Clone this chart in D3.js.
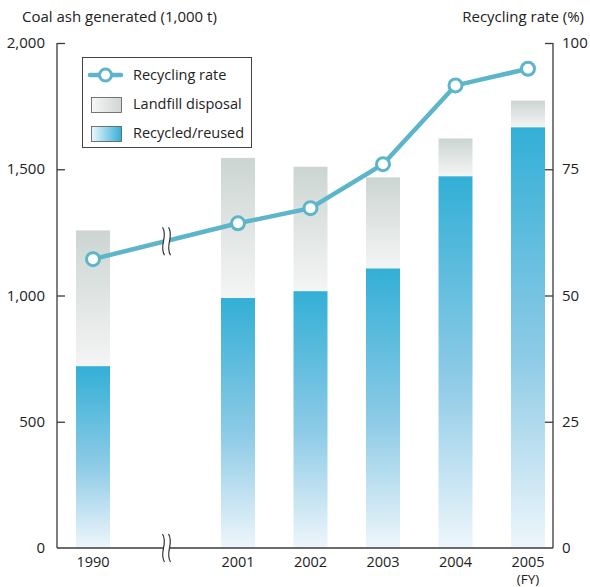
<!DOCTYPE html>
<html>
<head>
<meta charset="utf-8">
<script src="https://cdn.jsdelivr.net/npm/d3@7"></script>
<style>
  html, body { margin: 0; padding: 0; background: #fff; }
  svg { display: block; font-family: "Open Sans", "DejaVu Sans", sans-serif; }
</style>
</head>
<body>
<svg id="chart" width="590" height="587"></svg>
<script>
// Fiscal years shown, and the slot each occupies on the x axis (slot 1 is the axis break)
const years = ["1990", "2001", "2002", "2003", "2004", "2005"];
const slots = [0, 2, 3, 4, 5, 6];
// Coal ash generated, thousand tonnes
const totalAsh = [1258, 1545, 1510, 1468, 1622, 1772];
// Portion recycled or reused, thousand tonnes
const recycled = [720, 990, 1017, 1107, 1472, 1666];
// Recycling rate, percent
const recyclingRate = [57.2, 64.3, 67.3, 76.0, 91.6, 94.9];
const leftTicks = [0, 500, 1000, 1500, 2000];
const rightTicks = [0, 25, 50, 75, 100];

const svg = d3.select("#chart");
const plotL = 57, plotR = 553, plotT = 43, plotB = 548;
const lineColor = "#5cb5c9";
const axisColor = "#3a3a3a";
const textColor = "#222";

const x = d3.scaleLinear().domain([0, 6]).range([93, 528]);
const yAsh = d3.scaleLinear().domain([0, 2000]).range([plotB, plotT]);
const yRate = d3.scaleLinear().domain([0, 100]).range([plotB, plotT]);
const barW = 34;

// Gradients: grey fade for landfill, blue fade for recycled
const defs = svg.append("defs");
const gGrey = defs.append("linearGradient").attr("id", "landfill")
  .attr("x1", 0).attr("y1", 0).attr("x2", 0).attr("y2", 1);
gGrey.append("stop").attr("offset", "0%").attr("stop-color", "#ccd5d2");
gGrey.append("stop").attr("offset", "100%").attr("stop-color", "#f4f5f5");
const gBlue = defs.append("linearGradient").attr("id", "recycled")
  .attr("x1", 0).attr("y1", 0).attr("x2", 0).attr("y2", 1);
gBlue.append("stop").attr("offset", "0%").attr("stop-color", "#33afd6");
gBlue.append("stop").attr("offset", "55%").attr("stop-color", "#8ecbe6");
gBlue.append("stop").attr("offset", "100%").attr("stop-color", "#eef6fb");
const gGreyH = defs.append("linearGradient").attr("id", "landfillKey");
gGreyH.append("stop").attr("offset", "0%").attr("stop-color", "#f6f6f6");
gGreyH.append("stop").attr("offset", "100%").attr("stop-color", "#cfd6d4");
const gBlueH = defs.append("linearGradient").attr("id", "recycledKey");
gBlueH.append("stop").attr("offset", "0%").attr("stop-color", "#eef7fb");
gBlueH.append("stop").attr("offset", "100%").attr("stop-color", "#33afd6");

const data = years.map((yr, i) => ({
  yr, slot: slots[i], total: totalAsh[i], rec: recycled[i], rate: recyclingRate[i]
}));

// Bars
const bars = svg.append("g");
bars.selectAll("rect.landfill").data(data).join("rect")
  .attr("class", "landfill")
  .attr("x", d => x(d.slot) - barW / 2)
  .attr("y", d => yAsh(d.total))
  .attr("width", barW)
  .attr("height", d => yAsh(d.rec) - yAsh(d.total))
  .attr("fill", "url(#landfill)");
bars.selectAll("rect.rec").data(data).join("rect")
  .attr("class", "rec")
  .attr("x", d => x(d.slot) - barW / 2)
  .attr("y", d => yAsh(d.rec))
  .attr("width", barW)
  .attr("height", d => yAsh(0) - yAsh(d.rec))
  .attr("fill", "url(#recycled)");

// Axes
const axL = svg.append("g").attr("transform", `translate(${plotL},0)`)
  .call(d3.axisRight(yAsh).tickValues(leftTicks).tickSize(8).tickFormat(""));
const axR = svg.append("g").attr("transform", `translate(${plotR},0)`)
  .call(d3.axisLeft(yRate).tickValues(rightTicks).tickSize(8).tickFormat(""));
[axL, axR].forEach(a => {
  a.select(".domain").remove();
  a.selectAll("line").attr("stroke", axisColor).attr("stroke-width", 1.3);
  a.selectAll(".tick").filter(d => d === 0).remove();
});
svg.append("line").attr("x1", plotL).attr("x2", plotL).attr("y1", plotT).attr("y2", plotB)
  .attr("stroke", axisColor).attr("stroke-width", 1.3);
svg.append("line").attr("x1", plotR).attr("x2", plotR).attr("y1", plotT).attr("y2", plotB)
  .attr("stroke", axisColor).attr("stroke-width", 1.3);
svg.append("line").attr("x1", plotL).attr("x2", plotR).attr("y1", plotB).attr("y2", plotB)
  .attr("stroke", axisColor).attr("stroke-width", 1.3);

// Tick labels
svg.append("g").selectAll("text").data(leftTicks).join("text")
  .attr("x", 45).attr("y", d => yAsh(d) + 5)
  .attr("text-anchor", "end").attr("font-size", 15).attr("fill", textColor)
  .text(d => d3.format(",")(d));
svg.append("g").selectAll("text").data(rightTicks).join("text")
  .attr("x", 562).attr("y", d => yRate(d) + 5)
  .attr("text-anchor", "start").attr("font-size", 15).attr("fill", textColor)
  .text(d => d);
svg.append("g").selectAll("text").data(data).join("text")
  .attr("x", d => x(d.slot)).attr("y", 567)
  .attr("text-anchor", "middle").attr("font-size", 14.5).attr("fill", textColor)
  .text(d => d.yr);
svg.append("text").attr("x", x(6)).attr("y", 584)
  .attr("text-anchor", "middle").attr("font-size", 13.5).attr("fill", textColor).text("(FY)");

// Axis titles
svg.append("text").attr("x", 22).attr("y", 22).attr("font-size", 15).attr("fill", textColor)
  .text("Coal ash generated (1,000 t)");
svg.append("text").attr("x", 584).attr("y", 22).attr("text-anchor", "end")
  .attr("font-size", 15).attr("fill", textColor).text("Recycling rate (%)");

// Recycling rate line
const line = d3.line().x(d => x(d.slot)).y(d => yRate(d.rate));
svg.append("path").datum(data).attr("d", line)
  .attr("fill", "none").attr("stroke", lineColor).attr("stroke-width", 4.5);

// Break marks on the rate line and on the x axis
function breakMark(cx, cy, h) {
  const g = svg.append("g").attr("transform", `translate(${cx},${cy})`);
  const wave = dx => `M${dx - 2},${-h / 2} C${dx + 4},${-h / 6} ${dx - 6},${h / 6} ${dx},${h / 2}`;
  g.append("path")
    .attr("d", `M-2,${-h / 2} C4,${-h / 6} -6,${h / 6} 0,${h / 2} L6,${h / 2} C0,${h / 6} 10,${-h / 6} 4,${-h / 2} Z`)
    .attr("fill", "#fff");
  g.append("path").attr("d", wave(0)).attr("fill", "none").attr("stroke", "#333").attr("stroke-width", 1.2);
  g.append("path").attr("d", wave(6)).attr("fill", "none").attr("stroke", "#333").attr("stroke-width", 1.2);
}
const midY = (yRate(recyclingRate[0]) + yRate(recyclingRate[1])) / 2;
breakMark(x(1) - 1, midY, 28);
breakMark(x(1) - 1, plotB, 28);

// Rate markers
svg.append("g").selectAll("circle").data(data).join("circle")
  .attr("cx", d => x(d.slot)).attr("cy", d => yRate(d.rate)).attr("r", 6.5)
  .attr("fill", "#fff").attr("stroke", lineColor).attr("stroke-width", 3);

// Legend
const lg = svg.append("g");
lg.append("rect").attr("x", 82.5).attr("y", 57.5).attr("width", 169).attr("height", 90)
  .attr("fill", "#fff").attr("stroke", "#444").attr("stroke-width", 1);
lg.append("line").attr("x1", 90).attr("x2", 121).attr("y1", 75).attr("y2", 75)
  .attr("stroke", lineColor).attr("stroke-width", 4.5).attr("stroke-linecap", "round");
lg.append("circle").attr("cx", 105.5).attr("cy", 75).attr("r", 6)
  .attr("fill", "#fff").attr("stroke", lineColor).attr("stroke-width", 3);
lg.append("rect").attr("x", 91.5).attr("y", 97.5).attr("width", 30).attr("height", 15)
  .attr("fill", "url(#landfillKey)").attr("stroke", "#555").attr("stroke-width", 0.8);
lg.append("rect").attr("x", 91.5).attr("y", 126.5).attr("width", 30).attr("height", 15)
  .attr("fill", "url(#recycledKey)").attr("stroke", "#555").attr("stroke-width", 0.8);
const legendText = ["Recycling rate", "Landfill disposal", "Recycled/reused"];
lg.selectAll("text.key").data(legendText).join("text").attr("class", "key")
  .attr("x", 133).attr("y", (d, i) => 80 + i * 29)
  .attr("font-size", 14.5).attr("fill", textColor).text(d => d);
</script>
</body>
</html>
